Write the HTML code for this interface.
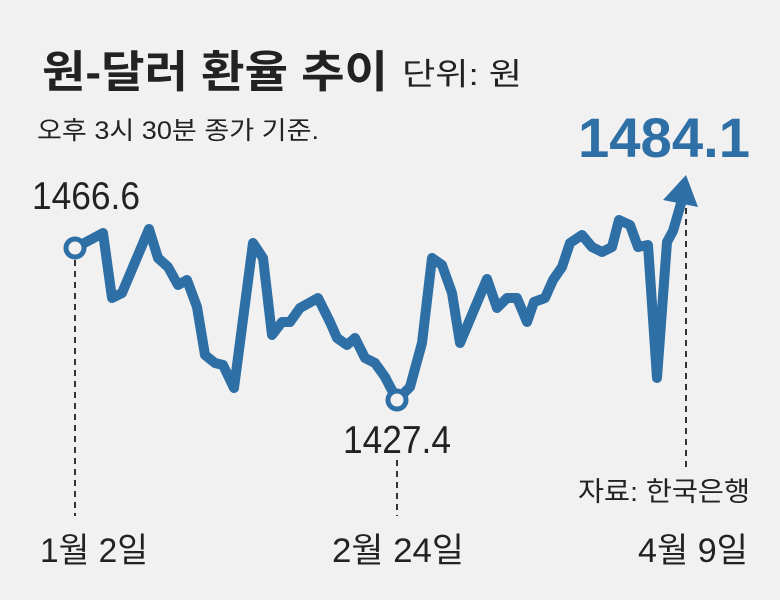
<!DOCTYPE html>
<html><head><meta charset="utf-8"><style>
html,body{margin:0;padding:0;background:#f1f1f1;}
svg{display:block}
text{font-family:"Liberation Sans","Noto Sans CJK KR",sans-serif;}
</style></head><body>
<svg width="780" height="600" viewBox="0 0 780 600" xmlns="http://www.w3.org/2000/svg">
<rect width="780" height="600" fill="#f1f1f1"/>
<text x="42" y="87" font-size="44" font-weight="bold" fill="#222" textLength="346" lengthAdjust="spacingAndGlyphs">원-달러 환율 추이</text>
<text x="402" y="85" font-size="31" fill="#222" textLength="120" lengthAdjust="spacingAndGlyphs">단위: 원</text>
<text x="37" y="139" font-size="25" fill="#222" textLength="282" lengthAdjust="spacingAndGlyphs">오후 3시 30분 종가 기준.</text>
<text x="578" y="157" font-size="56" font-weight="bold" fill="#2e6fa5" textLength="172" lengthAdjust="spacingAndGlyphs">1484.1</text>
<g stroke="#333" stroke-width="2" stroke-dasharray="6,5">
<line x1="75" y1="260" x2="75" y2="516"/>
<line x1="397" y1="460" x2="397" y2="516"/>
<line x1="686" y1="208" x2="686" y2="470"/>
</g>
<polyline fill="none" stroke="#2e6fa5" stroke-width="10" stroke-linejoin="round" stroke-linecap="round" points="75,248 103,233 112,298 122,293 149,229 158,258 168,267 178,285 187,280 197,307 205,355 215,363 223,365 234,388 253,243 263,258 272,335 282,322 290,322 300,308 318,298 330,322 337,338 347,345 355,338 365,358 375,363 385,377 397,400 410,387 422,343 432,258 442,265 452,293 460,343 487,279 497,308 507,298 517,298 527,322 534,302 545,298 553,280 562,267 570,243 582,235 592,247 602,252 612,247 619,220 630,225 638,247 648,245 657,378 667,242 673,231 682,200"/>
<polygon points="686,175 663,200 698,207" fill="#2e6fa5"/>
<circle cx="75" cy="248" r="9" fill="#f1f1f1" stroke="#2e6fa5" stroke-width="5"/>
<circle cx="397" cy="400" r="9" fill="#f1f1f1" stroke="#2e6fa5" stroke-width="5"/>
<text x="32" y="209" font-size="39" fill="#222" textLength="108" lengthAdjust="spacingAndGlyphs">1466.6</text>
<text x="343" y="453" font-size="39" fill="#222" textLength="108" lengthAdjust="spacingAndGlyphs">1427.4</text>
<text x="578" y="501" font-size="27" fill="#222" textLength="172" lengthAdjust="spacingAndGlyphs">자료: 한국은행</text>
<text x="40" y="562" font-size="34" fill="#222" textLength="108" lengthAdjust="spacingAndGlyphs">1월 2일</text>
<text x="332" y="562" font-size="34" fill="#222" textLength="132" lengthAdjust="spacingAndGlyphs">2월 24일</text>
<text x="638" y="562" font-size="34" fill="#222" textLength="110" lengthAdjust="spacingAndGlyphs">4월 9일</text>
</svg>
</body></html>
